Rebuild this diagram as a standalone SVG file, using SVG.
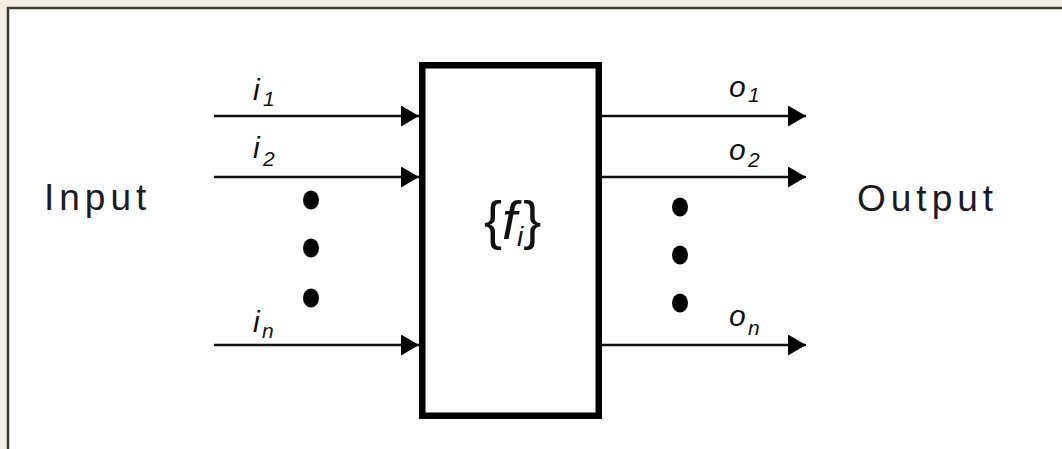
<svg xmlns="http://www.w3.org/2000/svg" width="1062" height="449" viewBox="0 0 1062 449">
<style>
.lbl{font-family:"Liberation Sans",Arial,sans-serif;font-style:italic;fill:#111;}
.main{font-size:30px;}
.sub{font-size:21px;}
.fn{font-family:"Liberation Sans",Arial,sans-serif;font-size:54px;fill:#111;}
.big{font-family:"Liberation Sans",Arial,sans-serif;font-size:37px;letter-spacing:5px;fill:#1a1a24;}
.wire{stroke:#111;stroke-width:2.5;fill:none;}
.dot{fill:#000;}
</style>
<defs>
<marker id="arr" markerUnits="userSpaceOnUse" markerWidth="19" markerHeight="22" refX="18" refY="10.5" orient="auto">
<polygon points="0,0 18,10.5 0,21" fill="#000"/>
</marker>
</defs>
<rect x="0" y="0" width="1062" height="449" fill="#f2efe2"/>
<rect x="8" y="8" width="1054" height="441" fill="#fff"/>
<path d="M8,449 V8 H1062" stroke="#3a3a30" stroke-width="2.5" fill="none"/>
<g id="connectors">
<line class="wire" x1="214" y1="116" x2="419" y2="116" marker-end="url(#arr)"/>
<line class="wire" x1="214" y1="177" x2="419" y2="177" marker-end="url(#arr)"/>
<line class="wire" x1="214" y1="345" x2="419" y2="345" marker-end="url(#arr)"/>
<line class="wire" x1="602" y1="116" x2="806" y2="116" marker-end="url(#arr)"/>
<line class="wire" x1="602" y1="177" x2="806" y2="177" marker-end="url(#arr)"/>
<line class="wire" x1="602" y1="345" x2="806" y2="345" marker-end="url(#arr)"/>
</g>
<g id="box">
<rect x="422.25" y="65.25" width="176.5" height="350.5" fill="#fff" stroke="#000" stroke-width="6.5"/>
<text class="fn" x="484" y="239">{<tspan style="font-style:italic">f</tspan><tspan style="font-style:italic;font-size:28px" dy="7">i</tspan><tspan dy="-7">}</tspan></text>
</g>
<g id="input">
<text class="big" x="44" y="210">Input</text>
</g>
<g id="output">
<text class="big" x="857" y="211">Output</text>
</g>
<g id="input-labels">
<text class="lbl main" x="253" y="100">i</text><text class="lbl sub" x="263" y="106">1</text>
<text class="lbl main" x="253" y="158">i</text><text class="lbl sub" x="263" y="166">2</text>
<text class="lbl main" x="253" y="332">i</text><text class="lbl sub" x="262" y="338">n</text>
</g>
<g id="output-labels">
<text class="lbl main" x="729" y="97">o</text><text class="lbl sub" x="748" y="102">1</text>
<text class="lbl main" x="729" y="160">o</text><text class="lbl sub" x="748" y="167">2</text>
<text class="lbl main" x="729" y="326">o</text><text class="lbl sub" x="748" y="335">n</text>
</g>
<g id="dots">
<ellipse class="dot" cx="311" cy="200" rx="8" ry="9.5"/>
<ellipse class="dot" cx="311" cy="248" rx="8" ry="9.5"/>
<ellipse class="dot" cx="311" cy="298" rx="8" ry="9.5"/>
<ellipse class="dot" cx="680" cy="207" rx="8" ry="9.5"/>
<ellipse class="dot" cx="680" cy="255" rx="8" ry="9.5"/>
<ellipse class="dot" cx="680" cy="303" rx="8" ry="9.5"/>
</g>
</svg>
